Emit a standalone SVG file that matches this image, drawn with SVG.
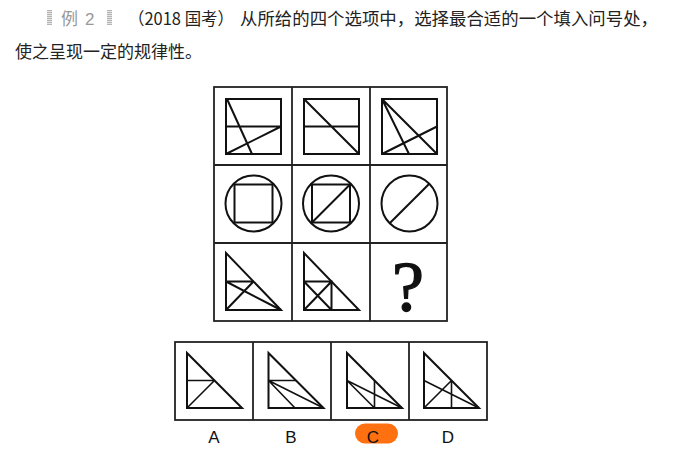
<svg xmlns="http://www.w3.org/2000/svg" width="675" height="453" viewBox="0 0 675 453">
<defs>
<pattern id="stripe" width="4" height="2" patternUnits="userSpaceOnUse">
<rect width="4" height="1" fill="#b5b5b5"/>
<rect y="1" width="4" height="1" fill="#e4e4e4"/>
</pattern>
</defs>
<style>
.t{font-family:"Noto Sans CJK SC","Liberation Sans",sans-serif;font-size:17px;fill:#222}
.g{font-family:"Liberation Sans","Noto Sans CJK SC",sans-serif;font-size:17px;fill:#999}
.cell{fill:#fff;stroke:#222;stroke-width:1.8}
.f{fill:none;stroke:#111;stroke-width:2;stroke-linejoin:miter}
.f1{fill:none;stroke:#111;stroke-width:1.6}
.lab{font-family:"Liberation Sans",Arial,sans-serif;font-size:17px;fill:#111;text-anchor:middle}
.q{font-family:"Liberation Serif","Times New Roman",serif;font-size:72px;fill:#111;stroke:#111;stroke-width:1.3;text-anchor:middle}
</style>
<rect width="675" height="453" fill="#fff"/>
<g id="header">
<rect x="47" y="10" width="5" height="15" fill="url(#stripe)"/>
<text class="g" x="61" y="25">例<tspan x="85">2</tspan></text>
<rect x="107" y="10" width="5" height="15" fill="url(#stripe)"/>
<text class="t" x="128" y="25" textLength="106" lengthAdjust="spacingAndGlyphs">（2018 国考）</text>
<text class="t" x="240" y="25" textLength="418" lengthAdjust="spacingAndGlyphs">从所给的四个选项中，选择最合适的一个填入问号处，</text>
<text class="t" x="15" y="58" textLength="187" lengthAdjust="spacingAndGlyphs">使之呈现一定的规律性。</text>
</g>
<g id="grid">
<rect class="cell" x="214" y="87" width="233" height="234"/>
<line class="cell" x1="292" y1="87" x2="292" y2="321"/>
<line class="cell" x1="370" y1="87" x2="370" y2="321"/>
<line class="cell" x1="214" y1="165" x2="447" y2="165"/>
<line class="cell" x1="214" y1="243" x2="447" y2="243"/>
</g>
<g id="r1c1">
<rect class="f" x="226" y="99" width="55" height="55"/>
<path class="f" d="M226 126.5H281M227 99L252 154M226 154L281 126.5"/>
</g>
<g id="r1c2">
<rect class="f" x="304" y="99" width="55" height="55"/>
<path class="f" d="M304 126.5H359M304 99L359 154"/>
</g>
<g id="r1c3">
<rect class="f" x="382" y="99" width="55" height="55"/>
<path class="f" d="M382 99L437 154M382 99L409 154M382 154L437 126.5"/>
</g>
<g id="r2c1">
<circle class="f" cx="253.5" cy="203.5" r="28"/>
<rect class="f" x="234.5" y="184.5" width="38" height="38"/>
</g>
<g id="r2c2">
<circle class="f" cx="331" cy="203.5" r="28"/>
<rect class="f" x="312" y="184.5" width="38" height="38"/>
<path class="f" d="M312 222.5L350 184.5"/>
</g>
<g id="r2c3">
<circle class="f" cx="409.5" cy="203.5" r="28"/>
<path class="f" d="M389.7 223.3L429.3 183.7"/>
</g>
<g id="r3c1">
<path class="f" d="M226 253V310H281Z"/>
<path class="f" d="M226 281.5H253.5M226 310L253.5 281.5M226 281.5L281 310"/>
</g>
<g id="r3c2">
<path class="f" d="M304 253V310H359Z"/>
<path class="f" d="M304 281.5H331.5V310M304 281.5L331.5 310M304 310L331.5 281.5"/>
</g>
<g id="r3c3">
<text class="q" x="408" y="311">?</text>
</g>
<g id="options">
<rect class="cell" x="175" y="342" width="312" height="78"/>
<line class="cell" x1="253" y1="342" x2="253" y2="420"/>
<line class="cell" x1="331" y1="342" x2="331" y2="420"/>
<line class="cell" x1="409" y1="342" x2="409" y2="420"/>
</g>
<g id="optA">
<path class="f" d="M187 353V408H242Z"/>
<path class="f1" d="M187 380.5H214.5M187 408L214.5 380.5"/>
</g>
<g id="optB">
<path class="f" d="M268.5 353V408H323.5Z"/>
<path class="f1" d="M268.5 380.5H296M268.5 380.5L323.5 408M268.5 380.5L295 408"/>
</g>
<g id="optC">
<path class="f" d="M347 353V408H402Z"/>
<path class="f1" d="M374.5 380.5V408M347 380.5L402 408M347 380.5L374.5 408"/>
</g>
<g id="optD">
<path class="f" d="M424 353V408H479Z"/>
<path class="f1" d="M451.5 380.5V408M424 380.5L479 408M424 408L451.5 380.5"/>
</g>
<g id="labels">
<text class="lab" x="214" y="443">A</text>
<text class="lab" x="291" y="443">B</text>
<rect x="355" y="423.5" width="43" height="20" rx="10" fill="#ff7010"/>
<text class="lab" x="373" y="443">C</text>
<text class="lab" x="448" y="443">D</text>
</g>
</svg>
